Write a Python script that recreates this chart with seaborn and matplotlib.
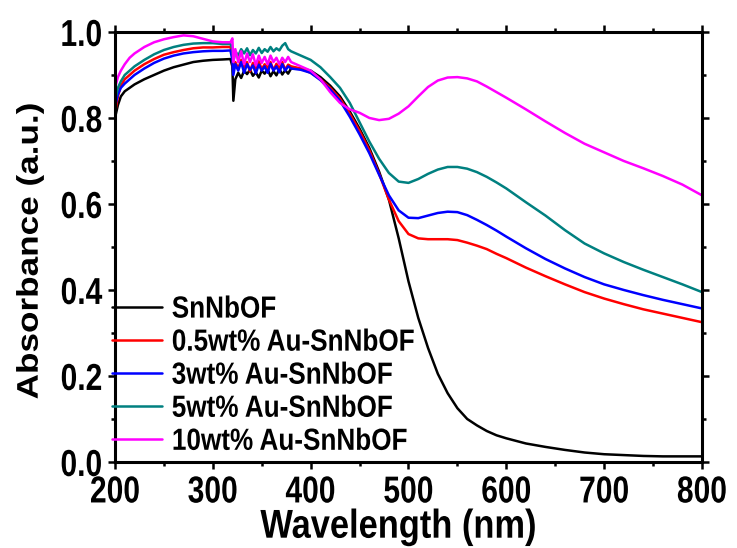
import matplotlib
matplotlib.use("Agg")
import matplotlib.pyplot as plt
import seaborn as sns
import pandas as pd
from matplotlib.ticker import MultipleLocator
from matplotlib.patheffects import AbstractPathEffect
from matplotlib.transforms import Affine2D

# ---------------- data ----------------
wavelength = [200, 203, 206, 210, 215, 220, 230, 240, 250, 260, 270, 280, 290, 300, 310, 318,
              320, 321, 323, 326, 329, 332, 335, 338, 341, 344, 347, 350, 353, 356, 359, 362, 365, 368, 371, 374, 377, 380,
              390, 400, 410, 420, 430, 440, 450, 460, 470, 480, 490, 500, 510, 520, 530, 540, 550, 560, 570, 580, 590, 600,
              620, 640, 660, 680, 700, 720, 740, 760, 780, 800]

snnbof = [0.80, 0.83, 0.85, 0.862, 0.87, 0.878, 0.89, 0.90, 0.91, 0.918, 0.924, 0.93, 0.933, 0.935, 0.936, 0.937,
          0.92, 0.84, 0.89, 0.905, 0.893, 0.91, 0.902, 0.912, 0.898, 0.906, 0.894, 0.91, 0.903, 0.913, 0.897, 0.909, 0.899, 0.914, 0.901, 0.911, 0.903, 0.915,
          0.915, 0.91, 0.895, 0.875, 0.85, 0.815, 0.775, 0.73, 0.675, 0.61, 0.52, 0.42, 0.335, 0.265, 0.205, 0.16, 0.125, 0.10, 0.085, 0.072, 0.062, 0.055,
          0.043, 0.035, 0.028, 0.022, 0.018, 0.016, 0.014, 0.013, 0.013, 0.013]

au_05 = [0.81, 0.85, 0.875, 0.89, 0.90, 0.91, 0.925, 0.937, 0.947, 0.953, 0.958, 0.962, 0.964, 0.964, 0.965, 0.965,
         0.945, 0.91, 0.93, 0.915, 0.935, 0.918, 0.93, 0.908, 0.928, 0.915, 0.932, 0.913, 0.925, 0.916, 0.93, 0.911, 0.926, 0.915, 0.93, 0.912, 0.924, 0.92,
         0.915, 0.905, 0.89, 0.87, 0.845, 0.81, 0.77, 0.725, 0.67, 0.61, 0.56, 0.53, 0.52, 0.518, 0.518, 0.518, 0.516, 0.51, 0.503, 0.495, 0.484, 0.474,
         0.452, 0.432, 0.413, 0.395, 0.38, 0.367, 0.355, 0.345, 0.335, 0.325]

au_3 = [0.825, 0.855, 0.87, 0.88, 0.89, 0.90, 0.915, 0.928, 0.938, 0.945, 0.95, 0.953, 0.955, 0.956, 0.956, 0.957,
        0.935, 0.90, 0.925, 0.91, 0.93, 0.905, 0.925, 0.912, 0.922, 0.904, 0.924, 0.91, 0.92, 0.905, 0.926, 0.91, 0.92, 0.906, 0.925, 0.91, 0.92, 0.915,
        0.912, 0.905, 0.888, 0.866, 0.84, 0.803, 0.762, 0.718, 0.668, 0.62, 0.585, 0.568, 0.567, 0.573, 0.579, 0.582, 0.581, 0.574, 0.563, 0.551, 0.538, 0.524,
        0.497, 0.472, 0.45, 0.43, 0.413, 0.40, 0.388, 0.377, 0.367, 0.357]

au_5 = [0.84, 0.87, 0.885, 0.90, 0.91, 0.92, 0.935, 0.948, 0.958, 0.965, 0.97, 0.973, 0.974, 0.974, 0.972, 0.972,
        0.96, 0.93, 0.955, 0.945, 0.96, 0.95, 0.962, 0.946, 0.958, 0.95, 0.963, 0.951, 0.96, 0.954, 0.965, 0.955, 0.962, 0.957, 0.968, 0.974, 0.96, 0.955,
        0.945, 0.935, 0.918, 0.895, 0.87, 0.835, 0.79, 0.745, 0.705, 0.672, 0.652, 0.649, 0.658, 0.67, 0.68, 0.686, 0.686, 0.682, 0.674, 0.663, 0.65, 0.636,
        0.604, 0.573, 0.539, 0.508, 0.485, 0.465, 0.447, 0.43, 0.413, 0.395]

au_10 = [0.87, 0.895, 0.91, 0.925, 0.94, 0.95, 0.965, 0.976, 0.983, 0.988, 0.992, 0.99, 0.984, 0.978, 0.976, 0.976,
         0.985, 0.93, 0.96, 0.93, 0.955, 0.925, 0.95, 0.93, 0.948, 0.922, 0.945, 0.928, 0.942, 0.925, 0.945, 0.93, 0.94, 0.925, 0.94, 0.93, 0.942, 0.93,
         0.92, 0.91, 0.89, 0.86, 0.835, 0.82, 0.812, 0.80, 0.795, 0.798, 0.81, 0.827, 0.85, 0.872, 0.887, 0.894, 0.895, 0.892, 0.885, 0.873, 0.86, 0.847,
         0.82, 0.792, 0.765, 0.74, 0.72, 0.70, 0.683, 0.665, 0.645, 0.62]

labels = ["SnNbOF", "0.5wt% Au-SnNbOF", "3wt% Au-SnNbOF", "5wt% Au-SnNbOF", "10wt% Au-SnNbOF"]
colors = ["#000000", "#FF0000", "#0000FF", "#008080", "#FF00FF"]
series = [snnbof, au_05, au_3, au_5, au_10]

x_ticks = [200, 300, 400, 500, 600, 700, 800]
y_ticks = [0.0, 0.2, 0.4, 0.6, 0.8, 1.0]

# ---------------- build long table ----------------
rows = []
for lab, vals in zip(labels, series):
    for w, a in zip(wavelength, vals):
        rows.append({"Wavelength": w, "Absorbance": a, "Sample": lab})
df = pd.DataFrame(rows)


# condensed look for the text (the reference uses a narrow bold face)
class Squeeze(AbstractPathEffect):
    def __init__(self, sx=1.0, sy=1.0, anchor="center", dx=0.0, dy=0.0):
        super().__init__()
        self.sx, self.sy, self.anchor = sx, sy, anchor
        self.dx, self.dy = dx, dy

    def draw_path(self, renderer, gc, tpath, affine, rgbFace=None):
        ext = tpath.get_extents()
        if self.anchor == "left":
            cx = ext.x0
        elif self.anchor == "right":
            cx = ext.x1
        else:
            cx = 0.5 * (ext.x0 + ext.x1)
        cy = 0.5 * (ext.y0 + ext.y1)
        t = (Affine2D().translate(-cx, -cy).scale(self.sx, self.sy)
             .translate(cx, cy) + affine + Affine2D().translate(self.dx, self.dy))
        renderer.draw_path(gc, tpath, t, rgbFace)


# ---------------- style ----------------
sns.set_theme(style="white")
plt.rcParams["font.family"] = ["Liberation Sans", "DejaVu Sans"]
for k in ["text.color", "axes.labelcolor", "xtick.color", "ytick.color", "axes.edgecolor"]:
    plt.rcParams[k] = "black"

fig = plt.figure(figsize=(7.37, 5.48), dpi=100)
ax = fig.add_axes([0.156, 0.157, 0.7965, 0.7847])

sns.lineplot(data=df, x="Wavelength", y="Absorbance", hue="Sample", hue_order=labels,
             palette=dict(zip(labels, colors)), sort=False, estimator=None,
             linewidth=1.8, ax=ax)

ax.set_xlim(200, 800)
ax.set_ylim(0, 1.0)
ax.set_xticks(x_ticks)
ax.set_yticks(y_ticks)
ax.set_xticklabels([str(t) for t in x_ticks])
ax.set_yticklabels([f"{t:.1f}" for t in y_ticks])
ax.xaxis.set_minor_locator(MultipleLocator(50))
ax.yaxis.set_minor_locator(MultipleLocator(0.1))

for sp in ax.spines.values():
    sp.set_visible(True)
    sp.set_linewidth(2.2)
    sp.set_color("black")

ax.tick_params(which="both", direction="out", top=True, right=True,
               bottom=True, left=True, labeltop=False, labelright=False,
               color="black", width=1.8)
ax.tick_params(which="major", length=5, pad=4)
ax.tick_params(which="minor", length=3)
for lab in ax.get_xticklabels():
    lab.set_fontsize(27)
    lab.set_fontweight("bold")
    lab.set_path_effects([Squeeze(0.8, 1.0, "center")])
for lab in ax.get_yticklabels():
    lab.set_fontsize(27)
    lab.set_fontweight("bold")
    lab.set_path_effects([Squeeze(0.8, 1.0, "right")])

xl = ax.set_xlabel("Wavelength (nm)", fontsize=29, fontweight="bold", labelpad=-2)
xl.set_path_effects([Squeeze(0.855, 1.0, "center", dx=-10)])
yl = ax.set_ylabel("Absorbance (a.u.)", fontsize=25.3, fontweight="bold", labelpad=3)
yl.set_path_effects([Squeeze(1.0, 0.85, "center", dy=-4)])

leg = ax.legend(frameon=False, loc="lower left", bbox_to_anchor=(-0.005, 0.012),
                prop={"weight": "bold", "size": 22},
                handlelength=1.65, handletextpad=0.3, labelspacing=0.1,
                borderpad=0, borderaxespad=0)
for h in leg.get_lines():
    h.set_linewidth(1.8)
for t in leg.get_texts():
    t.set_path_effects([Squeeze(0.855, 1.0, "left")])

fig.savefig("out.png", dpi=100)
